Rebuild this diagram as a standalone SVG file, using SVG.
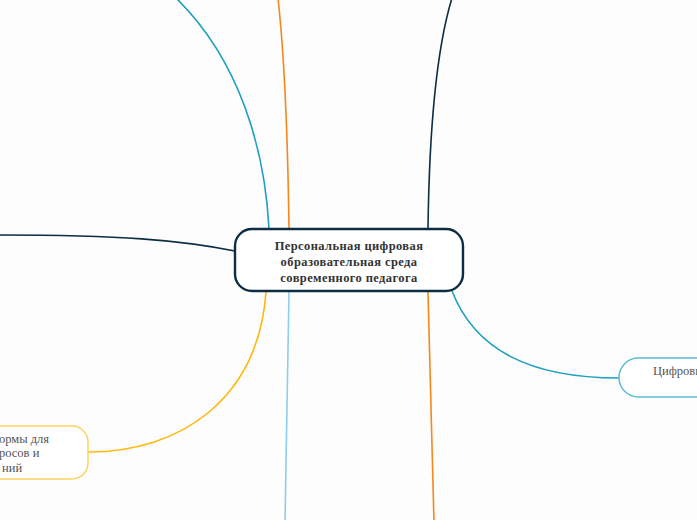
<svg xmlns="http://www.w3.org/2000/svg" width="697" height="520" viewBox="0 0 697 520">
<style>
.c{fill:none;stroke-width:1.6;stroke-linecap:round}
.main{fill:#ffffff;stroke:#0c2d42;stroke-width:2.4}
.mt{font-family:"Liberation Serif",serif;font-weight:bold;font-size:12.5px;fill:#333333;text-anchor:middle;letter-spacing:0.4px}
.st{font-family:"Liberation Serif",serif;font-size:12.5px;fill:#555555}
</style>
<rect width="697" height="520" fill="#fdfdfd"/>
<g id="connectors">
<path class="c" stroke="#1e9fc0" d="M269,229 C265,150 240,60 175,-3"/>
<path class="c" stroke="#f7871c" d="M289,229 Q287,80 278,-2"/>
<path class="c" stroke="#0c2d42" d="M428,229 Q430,70 452,-2"/>
<path class="c" stroke="#0c2d42" d="M235,251 C180,240 120,235 -2,235"/>
<path class="c" stroke="#ffb70f" d="M266,292 C258,400 180,452 88,452"/>
<path class="c" stroke="#8fcdea" d="M289,292 Q287,400 285,522"/>
<path class="c" stroke="#f7871c" d="M428,292 Q431,400 434,522"/>
<path class="c" stroke="#1e9fc0" d="M452,291 C475,350 530,378 619,378"/>
</g>
<g id="node-main">
<rect class="main" x="235" y="229" width="228" height="62" rx="17"/>
<text class="mt" x="349" y="250">Персональная цифровая</text>
<text class="mt" x="349" y="266">образовательная среда</text>
<text class="mt" x="349" y="282">современного педагога</text>
</g>
<g id="node-platforms">
<rect x="-60" y="426" width="148" height="53" rx="16" fill="#ffffff" stroke="#ffd25e" stroke-width="1.5"/>
<text class="st" x="-1" y="443">ормы для</text>
<text class="st" x="-1" y="457">росов и</text>
<text class="st" x="2" y="472">ний</text>
</g>
<g id="node-digital">
<rect x="619" y="358" width="140" height="39" rx="19.5" fill="#ffffff" stroke="#5bbcd8" stroke-width="1.5"/>
<text class="st" x="653" y="375">Цифровы</text>
</g>
</svg>
